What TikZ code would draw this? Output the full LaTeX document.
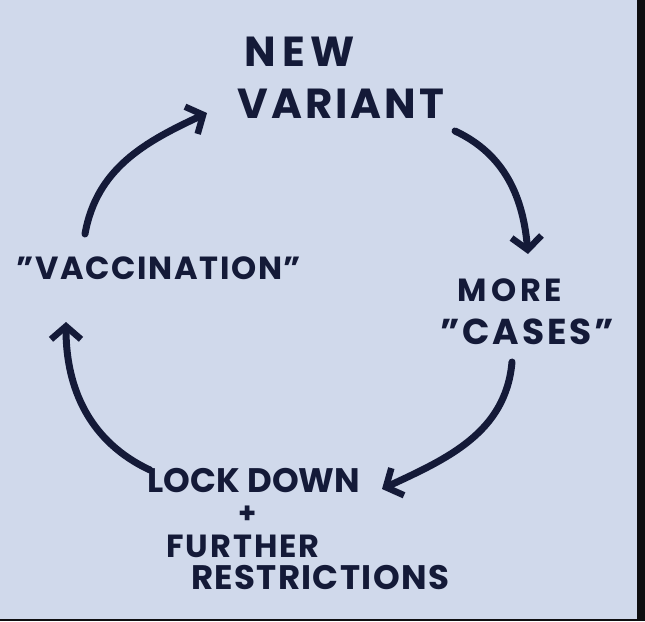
\documentclass[tikz,border=0pt]{standalone}
\usepackage{fontspec}
\setmainfont{Poppins}
\usetikzlibrary{arrows.meta}
\definecolor{paper}{RGB}{208,217,235}
\definecolor{ink}{RGB}{20,26,56}
\definecolor{frame}{RGB}{14,14,16}
\tikzset{
  lbl/.style={text=ink, font=\bfseries, inner sep=0pt, align=center},
  cyc/.style={draw=ink, line width=7pt, line cap=round,
    -{Straight Barb[length=13pt,width=30pt,line width=6.5pt]}},
}
\newcommand{\hand}[2]{\bfseries\fontsize{#1}{#1}\selectfont\addfontfeature{LetterSpace=#2}}
\begin{document}
\begin{tikzpicture}[x=1pt,y=1pt]
\fill[paper] (0,0) rectangle (645,-621);
\useasboundingbox (0,0) rectangle (645,-621);
\fill[frame] (637,0) rectangle (645,-621);
\fill[frame] (0,-619) rectangle (645,-621);

\node[lbl, font=\hand{42}{14}] (new) at (300,-52) {NEW};
\node[lbl, font=\hand{42}{7}] (variant) at (341,-104) {VARIANT};
\node[lbl, font=\hand{32}{12}] (more) at (510,-290) {MORE};
\node[lbl, font=\hand{36}{8}] (cases) at (527,-332) {"CASES"};
\node[lbl, font=\hand{34}{0}] (lock) at (254,-481) {LOCK DOWN};
\node[lbl, font=\hand{29}{0}] (plus) at (248,-515) {+};
\node[lbl, font=\hand{32}{6}] (further) at (243,-546) {FURTHER};
\node[lbl, font=\hand{34}{4}] (restr) at (320,-578) {RESTRICTIONS};
\node[lbl, font=\hand{32}{5}] (vacc) at (159,-268) {"VACCINATION"};

\coordinate (a1s) at (455,-131);
\coordinate (a1e) at (528,-254);
\coordinate (a2s) at (512,-362);
\coordinate (a2e) at (382,-489);
\coordinate (a3s) at (150,-470);
\coordinate (a3e) at (66,-322);
\coordinate (a4s) at (85,-234);
\coordinate (a4e) at (207,-113);

\draw[cyc] (a1s) to[out=-25,in=95] (a1e);
\draw[cyc] (a2s) to[out=-95,in=25] (a2e);
\draw[cyc] (a3s) to[out=155,in=-90] (a3e);
\draw[cyc] (a4s) to[out=80,in=205] (a4e);
\end{tikzpicture}
\end{document}
